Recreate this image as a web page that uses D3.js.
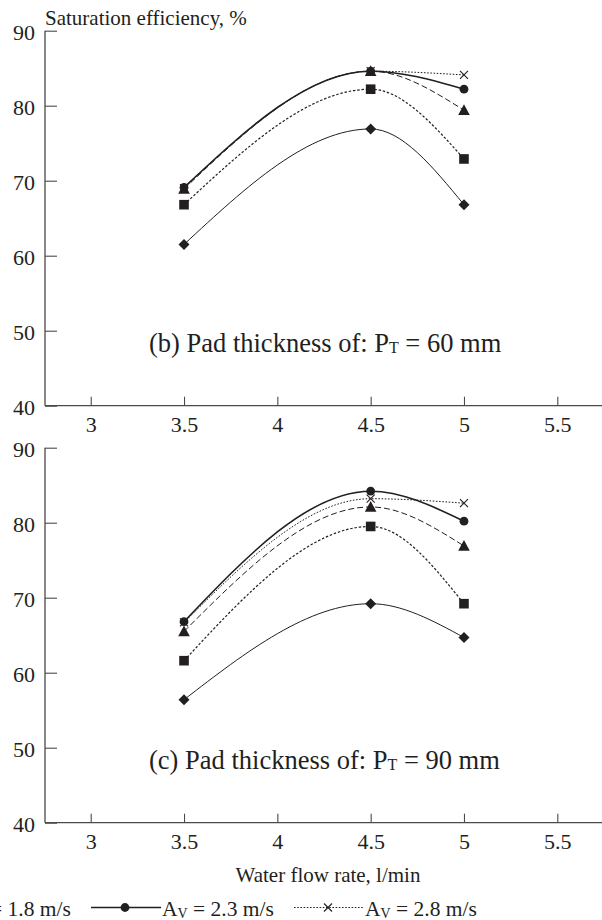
<!DOCTYPE html>
<html>
<head>
<meta charset="utf-8">
<script src="https://cdn.jsdelivr.net/npm/d3@7"></script>
<style>
html,body{margin:0;padding:0;background:#fff;}
svg{display:block;}
text{font-family:"Liberation Serif","Times New Roman",serif;fill:#231f20;}
</style>
</head>
<body>
<svg id="chart" width="602" height="920"></svg>
<script>
// ---------- DATA ----------
const flowRates = [3.5, 4.5, 5];
const xTicks = [3, 3.5, 4, 4.5, 5, 5.5];
const yTicks = [40, 50, 60, 70, 80, 90];
const seriesNames = ["1.0", "1.3", "1.8", "2.3", "2.8"]; // air velocity A_V, m/s
const seriesMarkers = ["diamond", "square", "triangle", "circle", "cross"];

// (b) Pad thickness 60 mm
const pt60_av10 = [61.5, 76.9, 66.8];
const pt60_av13 = [66.8, 82.2, 72.9];
const pt60_av18 = [68.9, 84.6, 79.4];
const pt60_av23 = [69.1, 84.6, 82.2];
const pt60_av28 = [69.0, 84.6, 84.1];

// (c) Pad thickness 90 mm
const pt90_av10 = [56.4, 69.2, 64.7];
const pt90_av13 = [61.6, 79.5, 69.2];
const pt90_av18 = [65.5, 82.1, 76.9];
const pt90_av23 = [66.8, 84.2, 80.2];
const pt90_av28 = [66.7, 83.2, 82.6];

const panels = [
  {label: "(b) Pad thickness of: P", sub: "T", tail: " = 60 mm",
   series: [pt60_av10, pt60_av13, pt60_av18, pt60_av23, pt60_av28]},
  {label: "(c) Pad thickness of: P", sub: "T", tail: " = 90 mm",
   series: [pt90_av10, pt90_av13, pt90_av18, pt90_av23, pt90_av28]}
];

// ---------- STYLE ----------
const ink = "#231f20";
const axisCol = "#4a4a4a";
const lineStyles = [
  {w: 1.0, dash: null},
  {w: 1.2, dash: "2.5,1.8"},
  {w: 1.0, dash: "6,3"},
  {w: 1.6, dash: null},
  {w: 1.0, dash: "1.6,1.6"}
];

const svg = d3.select("#chart");
const x = d3.scaleLinear().domain([3, 5.5]).range([90.7, 557.3]);
const axisLeftPx = 45, axisRightPx = 602;
const panelTops = [30.7, 447.7];
const panelH = 375;

function marker(g, type, cx, cy) {
  if (type === "diamond") {
    g.append("path").attr("d", `M${cx},${cy-5.5}L${cx+5.5},${cy}L${cx},${cy+5.5}L${cx-5.5},${cy}Z`).attr("fill", ink);
  } else if (type === "square") {
    g.append("rect").attr("x", cx-4.8).attr("y", cy-4.8).attr("width", 9.6).attr("height", 9.6).attr("fill", ink);
  } else if (type === "triangle") {
    g.append("path").attr("d", `M${cx},${cy-6}L${cx+5.8},${cy+4.8}L${cx-5.8},${cy+4.8}Z`).attr("fill", ink);
  } else if (type === "circle") {
    g.append("circle").attr("cx", cx).attr("cy", cy).attr("r", 4.4).attr("fill", ink);
  } else if (type === "cross") {
    g.append("path").attr("d", `M${cx-4},${cy-4}L${cx+4},${cy+4}M${cx-4},${cy+4}L${cx+4},${cy-4}`)
      .attr("stroke", ink).attr("stroke-width", 1.1).attr("fill", "none");
  }
}

panels.forEach((p, pi) => {
  const top = panelTops[pi];
  const y = d3.scaleLinear().domain([40, 90]).range([top + panelH, top]);
  const g = svg.append("g");

  // x axis
  const xa = g.append("g").attr("transform", `translate(0,${y(40)})`)
    .call(d3.axisBottom(x).tickValues(xTicks).tickSize(-9).tickPadding(11).tickFormat(d3.format("")));
  xa.select(".domain").remove();
  xa.selectAll(".tick line").attr("stroke", axisCol).attr("stroke-width", 1.1);
  xa.selectAll(".tick text").attr("font-size", 22).attr("fill", ink)
    .attr("font-family", "Liberation Serif, serif");
  g.append("line").attr("x1", axisLeftPx).attr("x2", axisRightPx).attr("y1", y(40)).attr("y2", y(40))
    .attr("stroke", axisCol).attr("stroke-width", 1.3);

  // y axis
  const ya = g.append("g").attr("transform", `translate(${axisLeftPx},0)`)
    .call(d3.axisLeft(y).tickValues(yTicks).tickSize(-12).tickPadding(10));
  ya.select(".domain").remove();
  ya.selectAll(".tick line").attr("stroke", axisCol).attr("stroke-width", 1.1);
  ya.selectAll(".tick text").attr("font-size", 22).attr("fill", ink).attr("dy", "0.4em")
    .attr("font-family", "Liberation Serif, serif");
  g.append("line").attr("x1", axisLeftPx).attr("x2", axisLeftPx).attr("y1", y(90)).attr("y2", y(40))
    .attr("stroke", axisCol).attr("stroke-width", 1.3);

  // series
  const lineGen = d3.line().x(d => x(d[0])).y(d => y(d[1])).curve(d3.curveMonotoneX);
  p.series.forEach((vals, si) => {
    const pts = flowRates.map((f, i) => [f, vals[i]]);
    const st = lineStyles[si];
    g.append("path").attr("d", lineGen(pts)).attr("fill", "none").attr("stroke", ink)
      .attr("stroke-width", st.w).attr("stroke-dasharray", st.dash);
  });
  p.series.forEach((vals, si) => {
    flowRates.forEach((f, i) => marker(g, seriesMarkers[si], x(f), y(vals[i])));
  });

  // panel label
  const t = g.append("text").attr("x", 149).attr("y", y(40) - 54).attr("font-size", 26.5);
  t.append("tspan").text(p.label);
  t.append("tspan").text(p.sub).attr("font-size", 16).attr("dy", 1);
  t.append("tspan").text(p.tail).attr("dy", -1);
});

// axis titles
svg.append("text").attr("x", 45).attr("y", 25).attr("font-size", 21).text("Saturation efficiency, %");
svg.append("text").attr("x", 328).attr("y", 882).attr("font-size", 21).attr("text-anchor", "middle")
  .text("Water flow rate, l/min");

// legend (only the items that fall inside the visible width)
const legY = 907.5, legPitch = 203;
seriesNames.forEach((name, si) => {
  if (si < 2) return;
  const x0 = 91 + (si - 3) * legPitch;
  const st = lineStyles[si];
  svg.append("line").attr("x1", x0).attr("x2", x0 + 70).attr("y1", legY).attr("y2", legY)
    .attr("stroke", ink).attr("stroke-width", st.w).attr("stroke-dasharray", st.dash);
  marker(svg, seriesMarkers[si], x0 + 34, legY);
  const t = svg.append("text").attr("x", x0 + 71).attr("y", 916).attr("font-size", 21.5);
  t.append("tspan").text("A");
  t.append("tspan").text("V").attr("font-size", 14).attr("dy", 2);
  t.append("tspan").text(" = " + name + " m/s").attr("dy", -2);
});
</script>
</body>
</html>
